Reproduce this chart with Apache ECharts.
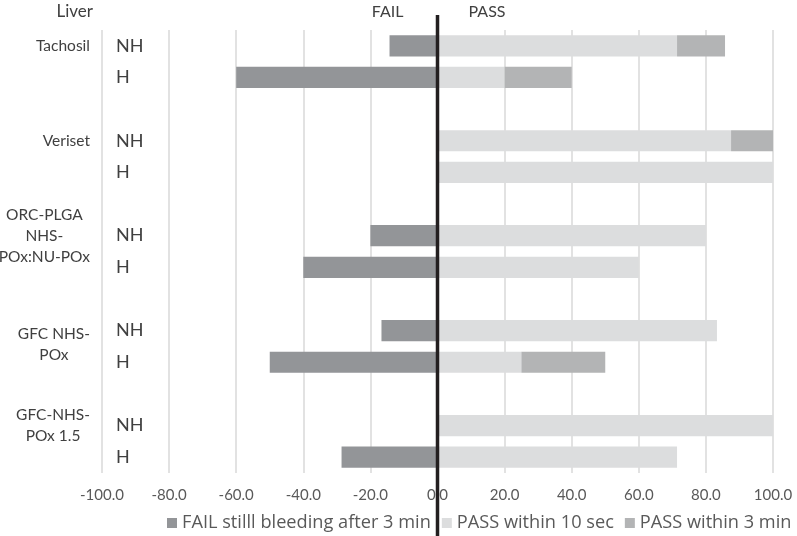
<!DOCTYPE html>
<html><head><meta charset="utf-8">
<script src="https://cdn.jsdelivr.net/npm/echarts@6/dist/echarts.min.js"></script>
<style>html,body{margin:0;padding:0;background:#fff}#c{width:797px;height:536px}</style>
</head><body><div id="c"></div>
<script>
// ---- data ----
const categories = ['Tachosil|NH','Tachosil|H','gap1','Veriset|NH','Veriset|H','gap2','ORC|NH','ORC|H','gap3','GFC|NH','GFC|H','gap4','GFC15|NH','GFC15|H'];
const seriesNames = ['FAIL stilll bleeding after 3 min','PASS within 10 sec','PASS within 3 min'];
const failValues  = [-14.3, -60, null, null, null, null, -20, -40, null, -16.7, -50, null, null, -28.6];
const pass10Values = [71.4, 20, null, 87.5, 100, null, 80, 60, null, 83.3, 25, null, 100, 71.4];
const pass3Values  = [14.3, 20, null, 12.5, null, null, null, null, null, null, 25, null, null, null];
const xMin = -100, xMax = 100, xStep = 20;
const groupKeys = ['Tachosil|NH','Veriset|NH','ORC|NH','GFC|NH','GFC15|NH'];
const groupLines = [['Tachosil'],['Veriset'],['ORC-PLGA','NHS-','POx:NU-POx'],['GFC NHS-','POx'],['GFC-NHS-','POx 1.5']];
const groupShiftDown = [false,false,false,true,false];
const colors = ['#939598','#dcddde','#b3b4b5'];

const FONT = 'Lato';
const LEGEND_FONT = 'Open Sans';
const chart = echarts.init(document.getElementById('c'), null, {renderer:'canvas'});

function groupLabel(v){
  const i = groupKeys.indexOf(v);
  if (i < 0) return '';
  let s = groupLines[i].map(l => '{c|' + l + '}').join('\n');
  if (groupShiftDown[i]) s = '{sp|}\n' + s;
  return s;
}

const option = {
  animation: false,
  backgroundColor: '#fff',
  textStyle: {fontFamily: FONT},
  grid: {left: 102, right: 24, top: 30, bottom: 63, containLabel: false, outerBoundsMode: 'none'},
  xAxis: {
    type: 'value', min: xMin, max: xMax, interval: xStep,
    axisLine: {show: false}, axisTick: {show: false},
    splitLine: {lineStyle: {color: '#d9d9d9', width: 1.5}},
    axisLabel: {formatter: v => v.toFixed(1), fontFamily: FONT, fontSize: 15, color: '#595959', margin: 15}
  },
  yAxis: [{
    type: 'category', data: categories, inverse: true,
    axisLine: {show: false}, axisTick: {show: false}, splitLine: {show: false},
    axisLabel: {inside: true, margin: 14, fontFamily: FONT, fontSize: 18, color: '#404040',
      formatter: v => (v.indexOf('|') >= 0 ? v.split('|')[1] : '')}
  },{
    type: 'category', data: categories, inverse: true, position: 'left',
    axisLine: {show: false}, axisTick: {show: false}, splitLine: {show: false},
    axisLabel: {margin: 12, align: 'right', fontFamily: FONT, fontSize: 15.5, color: '#404040', lineHeight: 21,
      formatter: groupLabel,
      rich: {c: {align: 'center', fontFamily: FONT, fontSize: 15.5, color: '#404040', lineHeight: 21},
             sp: {lineHeight: 28, fontSize: 10}}}
  }],
  legend: {
    top: 514, left: 167, width: 720, padding: 0, itemWidth: 10, itemHeight: 10, itemGap: 11, icon: 'rect',
    textStyle: {fontFamily: LEGEND_FONT, fontSize: 18.2, color: '#595959'},
    data: seriesNames
  },
  series: [
    {name: seriesNames[0], type: 'bar', stack: 'a', data: failValues, barWidth: '67%', itemStyle: {color: colors[0]}},
    {name: seriesNames[1], type: 'bar', stack: 'a', data: pass10Values, barWidth: '67%', itemStyle: {color: colors[1]}},
    {name: seriesNames[2], type: 'bar', stack: 'a', data: pass3Values, barWidth: '67%', itemStyle: {color: colors[2]}}
  ]
};
chart.setOption(option);

const x0 = chart.convertToPixel({xAxisIndex: 0}, 0);
const xLeft = chart.convertToPixel({xAxisIndex: 0}, xMin);
chart.setOption({
  graphic: [
    {type: 'line', z: 100, shape: {x1: x0, y1: 15, x2: x0, y2: 536}, style: {stroke: '#231f20', lineWidth: 3.5}},
    {type: 'text', z: 100, style: {text: 'FAIL', x: x0 - 34, y: 12, align: 'right', verticalAlign: 'middle', font: '16px ' + FONT, fill: '#404040'}},
    {type: 'text', z: 100, style: {text: 'PASS', x: x0 + 31, y: 12, align: 'left', verticalAlign: 'middle', font: '16px ' + FONT, fill: '#404040'}},
    {type: 'text', z: 100, style: {text: 'Liver', x: xLeft - 9, y: 12, align: 'right', verticalAlign: 'middle', font: '17px ' + FONT, fill: '#404040'}}
  ]
});
</script></body></html>
